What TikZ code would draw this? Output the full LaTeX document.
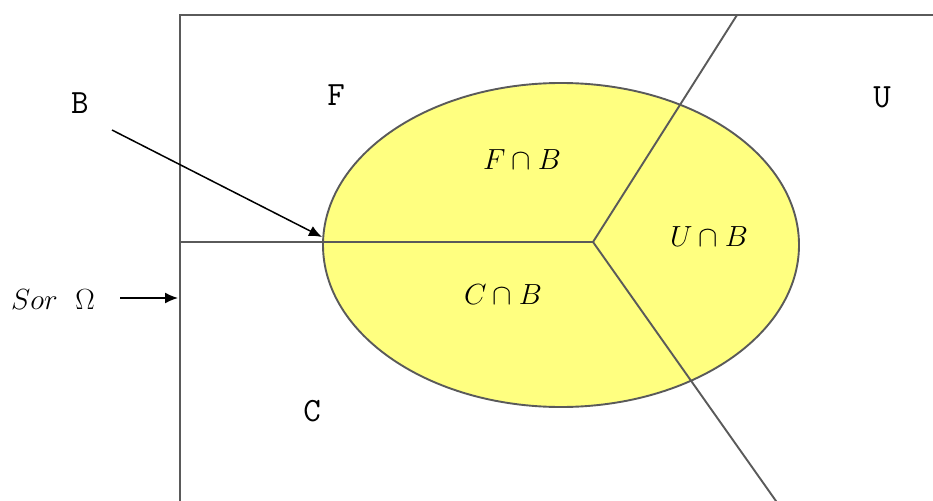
\documentclass[tikz,border=0pt]{standalone}
\usepackage{fontspec}
\definecolor{setyellow}{RGB}{255,255,128}
\definecolor{linegray}{RGB}{90,90,90}
\tikzset{
  setlabel/.style={font=\ttfamily\fontsize{34}{38}\selectfont},
  mathlabel/.style={font=\Huge,scale=1.17},
  border/.style={draw=linegray,line width=1.9pt},
  pointer/.style={draw=black,line width=1.5pt,-{Latex[length=13pt,width=11pt]}}
}
\usetikzlibrary{arrows.meta}
\begin{document}
\begin{tikzpicture}[x=1pt,y=-1pt]
  \useasboundingbox (0,0) rectangle (933,500);
  \begin{scope}
    \clip (0,0) rectangle (933,500);
    \fill[setyellow] (561,245) ellipse [x radius=238, y radius=162];
    \draw[border] (561,245) ellipse [x radius=238, y radius=162];
    \draw[border] (180,520) -- (180,15) -- (960,15);
    \coordinate (O) at (593,242);
    \coordinate (west) at (180,242);
    \coordinate (north) at (737,15);
    \coordinate (south) at (788,518);
    \draw[border] (west) -- (O);
    \draw[border] (O) -- (north);
    \draw[border] (O) -- (south);
  \end{scope}
  \node[setlabel] (b) at (80,103) {B};
  \node[setlabel] (f) at (336,95) {F};
  \node[setlabel] (u) at (882,97) {U};
  \node[setlabel] (c) at (312,411) {C};
  \node[mathlabel] (fb) at (522,160) {$F\cap B$};
  \node[mathlabel] (ub) at (709,237) {$U\cap B$};
  \node[mathlabel] (cb) at (503,295) {$C\cap B$};
  \node[mathlabel] (sor) at (53,300) {$Sor\ \ \Omega$};
  \coordinate (btail) at (112,130);
  \coordinate (bhead) at (322,237);
  \coordinate (stail) at (120,298);
  \coordinate (shead) at (178,298);
  \draw[pointer] (btail) -- (bhead);
  \draw[pointer] (stail) -- (shead);
\end{tikzpicture}
\end{document}
